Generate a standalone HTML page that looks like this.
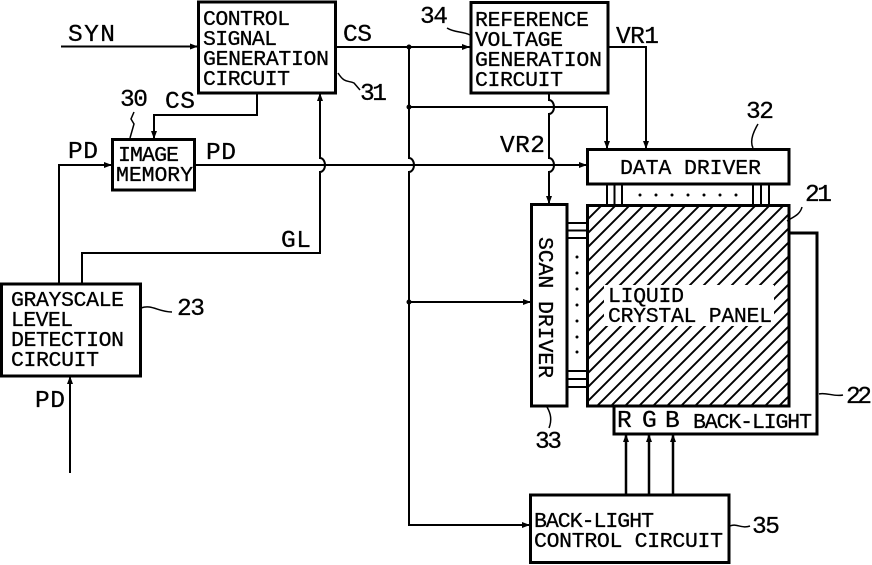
<!DOCTYPE html>
<html><head><meta charset="utf-8"><style>
html,body{margin:0;padding:0;background:#fff}
svg{display:block}
text{font-family:"Liberation Mono",monospace;font-size:21.500px;fill:#000;stroke:#000;stroke-width:.3}
text.b{font-size:24.500px}
</style></head><body>
<svg width="872" height="565" viewBox="0 0 872 565" xmlns="http://www.w3.org/2000/svg">
<defs><clipPath id="p"><rect x="587" y="205" width="202" height="201"/></clipPath></defs>
<rect width="872" height="565" fill="#fff"/>
<!-- hatch -->
<g clip-path="url(#p)" stroke="#000" stroke-width="1.900">
<path d="M612 195l-225 225M626 195l-225 225M640 195l-225 225M654 195l-225 225M668 195l-225 225M682 195l-225 225M696 195l-225 225M710 195l-225 225M724 195l-225 225M738 195l-225 225M752 195l-225 225M766 195l-225 225M780 195l-225 225M794 195l-225 225M808 195l-225 225M822 195l-225 225M836 195l-225 225M850 195l-225 225M864 195l-225 225M878 195l-225 225M892 195l-225 225M906 195l-225 225M920 195l-225 225M934 195l-225 225M948 195l-225 225M962 195l-225 225M976 195l-225 225M990 195l-225 225M1004 195l-225 225"/>
</g>
<rect x="604" y="285" width="170" height="41" fill="#fff"/>
<!-- boxes -->
<g fill="none" stroke="#000" stroke-width="3">
<rect x="198.500" y="2" width="137" height="91"/>
<rect x="471" y="2.500" width="137" height="90.500"/>
<rect x="112.500" y="139.500" width="82" height="50.500"/>
<rect x="587.500" y="149.500" width="201.500" height="34.500"/>
<rect x="587.500" y="205.500" width="201.500" height="200.500"/>
<rect x="531.500" y="204.500" width="35.500" height="201.500"/>
<rect x="1.500" y="284" width="139" height="92"/>
<rect x="530.500" y="495" width="198.500" height="67.500"/>
<path d="M614 406V434H817V233H789"/>
</g>
<!-- wires -->
<g fill="none" stroke="#000" stroke-width="2">
<path d="M61 46.500H198"/>
<path d="M336 47H470"/>
<path d="M409 47V158a5 7 0 0 1 0 14V525H530"/>
<path d="M409 107H607V149"/>
<path d="M409 302H531"/>
<path d="M195 165H587"/>
<path d="M257 93V115H154V139"/>
<path d="M59 284V165H112"/>
<path d="M82 284V253H320V172a5 7 0 0 0 0 -14V93"/>
<path d="M70 473V376"/>
<path d="M608 47H646V149"/>
<path d="M549 93V100a5 7 0 0 1 0 14V158a5 7 0 0 1 0 14V204"/>
<path d="M626 495V434M649 495V434M673 495V434" stroke-width="2.500"/>
<path d="M607 184V205M614.500 184V205M622 184V205M753 184V205M761 184V205M769 184V205"/>
<path d="M567 223H587M567 230.500H587M567 238H587M567 371H587M567 379H587M567 387H587"/>
<!-- leaders -->
<path d="M338 73C345 84 348 80 354 83L360 90" stroke-width="1.500"/>
<path d="M130 138L134 124L131 119L134 112" stroke-width="1.500"/>
<path d="M447 28C455 33 462 31 470 35" stroke-width="1.500"/>
<path d="M753 148C750 142 752 134 758 124" stroke-width="1.500"/>
<path d="M787 221C793 217 800 215 802 207" stroke-width="1.500"/>
<path d="M141 308C152 304 158 312 172 312" stroke-width="1.500"/>
<path d="M547 407C551 414 552 420 549 428" stroke-width="1.500"/>
<path d="M819 394C826 392 834 397 843 395" stroke-width="1.500"/>
<path d="M730 526C736 523 742 529 750 526" stroke-width="1.500"/>
</g>
<!-- arrowheads -->
<g fill="#000">
<path d="M198 46.500l-8 -3v6z"/>
<path d="M470 47l-8 -3v6z"/>
<path d="M607 149l-3 -8h6z"/>
<path d="M646 149l-3 -8h6z"/>
<path d="M587 165l-8 -3v6z"/>
<path d="M549 204l-3 -8h6z"/>
<path d="M531 302l-8 -3v6z"/>
<path d="M530 525l-8 -3v6z"/>
<path d="M154 139l-3 -8h6z"/>
<path d="M112 165l-8 -3v6z"/>
<path d="M320 93l-3 8h6z"/>
<path d="M70 376l-3 8h6z"/>
<path d="M626 434l-3 8h6z"/>
<path d="M649 434l-3 8h6z"/>
<path d="M673 434l-3 8h6z"/>
<circle cx="409" cy="47" r="2.500"/>
<circle cx="409" cy="107" r="2.500"/>
<circle cx="409" cy="302" r="2.500"/>
<circle cx="640" cy="195" r="1.500"/><circle cx="656" cy="195" r="1.500"/><circle cx="672" cy="195" r="1.500"/><circle cx="688" cy="195" r="1.500"/><circle cx="704" cy="195" r="1.500"/><circle cx="720" cy="195" r="1.500"/><circle cx="736" cy="195" r="1.500"/>
<circle cx="577" cy="257" r="1.500"/><circle cx="577" cy="273" r="1.500"/><circle cx="577" cy="289" r="1.500"/><circle cx="577" cy="305" r="1.500"/><circle cx="577" cy="321" r="1.500"/><circle cx="577" cy="337" r="1.500"/><circle cx="577" cy="352" r="1.500"/>
</g>
<!-- text -->
<text x="203" y="25" textLength="87">CONTROL</text>
<text x="203" y="45" textLength="74">SIGNAL</text>
<text x="203" y="65" textLength="126">GENERATION</text>
<text x="203" y="85" textLength="87">CIRCUIT</text>
<text x="475" y="26" textLength="114">REFERENCE</text>
<text x="475" y="46" textLength="88">VOLTAGE</text>
<text x="475" y="66" textLength="127">GENERATION</text>
<text x="475" y="86" textLength="88">CIRCUIT</text>
<text class="b" x="68" y="41" textLength="47">SYN</text>
<text class="b" x="343" y="41" textLength="29">CS</text>
<text class="b" x="420" y="23" textLength="28">34</text>
<text class="b" x="616" y="43" textLength="43">VR1</text>
<text class="b" x="120" y="106" textLength="28">30</text>
<text class="b" x="165" y="108" textLength="30">CS</text>
<text class="b" x="360" y="100" textLength="27">31</text>
<text class="b" x="68" y="158" textLength="30">PD</text>
<text class="b" x="206" y="159" textLength="30">PD</text>
<text x="118" y="161" textLength="61">IMAGE</text>
<text x="116" y="181" textLength="77">MEMORY</text>
<text class="b" x="281" y="247" textLength="30">GL</text>
<text class="b" x="500" y="152" textLength="45">VR2</text>
<text class="b" x="746" y="118" textLength="28">32</text>
<text class="b" x="805" y="201" textLength="27">21</text>
<text x="620" y="174" textLength="141">DATA DRIVER</text>
<text transform="translate(539,237) rotate(90)" textLength="141">SCAN DRIVER</text>
<text x="608" y="302" textLength="76">LIQUID</text>
<text x="608" y="322" textLength="164">CRYSTAL PANEL</text>
<text class="b" x="617" y="427" textLength="16">R</text>
<text class="b" x="642" y="427" textLength="15">G</text>
<text class="b" x="665" y="427" textLength="15">B</text>
<text x="693" y="428" textLength="119">BACK-LIGHT</text>
<text class="b" x="846" y="403" textLength="26">22</text>
<text class="b" x="535" y="448" textLength="27">33</text>
<text x="534" y="527" textLength="120">BACK-LIGHT</text>
<text x="534" y="547" textLength="189">CONTROL CIRCUIT</text>
<text class="b" x="752" y="533" textLength="28">35</text>
<text x="11" y="306" textLength="113">GRAYSCALE</text>
<text x="11" y="326" textLength="62">LEVEL</text>
<text x="11" y="346" textLength="113">DETECTION</text>
<text x="11" y="366" textLength="88">CIRCUIT</text>
<text class="b" x="177" y="315" textLength="28">23</text>
<text class="b" x="35" y="407" textLength="30">PD</text>
</svg>
</body></html>
